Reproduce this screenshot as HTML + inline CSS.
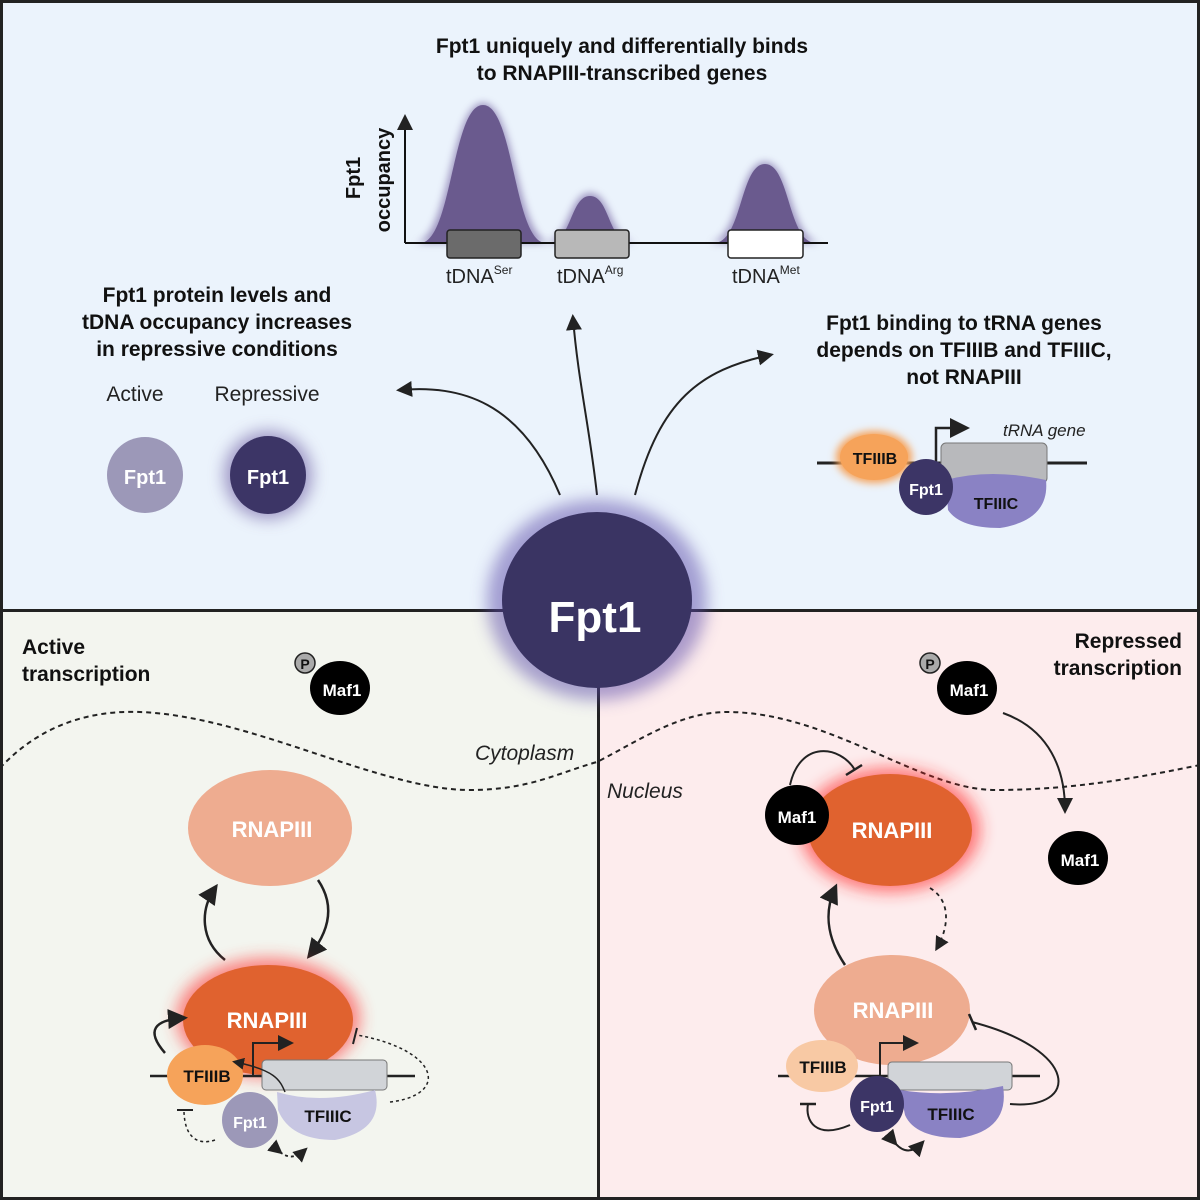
<!DOCTYPE html>
<html><head><meta charset="utf-8"><style>
body{margin:0}svg{display:block}
text{font-family:"Liberation Sans",sans-serif}
.b{font-weight:bold}
</style></head><body>
<svg width="1200" height="1200" viewBox="0 0 1200 1200">
<defs>
<filter id="g" x="-50%" y="-50%" width="200%" height="200%"><feGaussianBlur stdDeviation="8"/></filter>
<filter id="g2" x="-50%" y="-50%" width="200%" height="200%"><feGaussianBlur stdDeviation="4"/></filter>
<marker id="ah" markerWidth="8" markerHeight="8" refX="6" refY="4" orient="auto"><path d="M0,0 L8,4 L0,8 z" fill="#222"/></marker>
</defs>
<rect x="0" y="0" width="1200" height="1200" fill="#222"/>
<rect x="3" y="3" width="1194" height="606" fill="#ebf3fc"/>
<rect x="3" y="612" width="594" height="585" fill="#f3f5ef"/>
<rect x="600" y="612" width="597" height="585" fill="#fdeced"/>

<text x="622" y="53" font-size="21" class="b" text-anchor="middle" fill="#111">Fpt1 uniquely and differentially binds</text>
<text x="622" y="80" font-size="21" class="b" text-anchor="middle" fill="#111">to RNAPIII-transcribed genes</text>
<text transform="translate(360,178) rotate(-90)" font-size="20" class="b" text-anchor="middle" fill="#111">Fpt1</text>
<text transform="translate(390,180) rotate(-90)" font-size="20" class="b" text-anchor="middle" fill="#111">occupancy</text>
<g fill="#7a6aa6" filter="url(#g2)" opacity="0.7">
<path d="M414,243 C450,243 450,103 483,103 C516,103 516,243 552,243Z"/>
<path d="M542,243 C570,243 568,193 590,193 C612,193 610,243 638,243Z"/>
<path d="M708,243 C740,243 738,162 765,162 C792,162 790,243 822,243Z"/>
</g>
<g fill="#6a5a8e">
<path d="M420,243 C452,243 452,105 483,105 C514,105 514,243 546,243Z"/>
<path d="M548,243 C572,243 570,196 590,196 C610,196 608,243 632,243Z"/>
<path d="M714,243 C742,243 740,164 765,164 C790,164 788,243 816,243Z"/>
</g>
<line x1="405" y1="243" x2="405" y2="118" stroke="#111" stroke-width="2" marker-end="url(#ah)"/>
<line x1="405" y1="243" x2="828" y2="243" stroke="#111" stroke-width="2"/>
<rect x="447" y="230" width="74" height="28" rx="3" fill="#6b6b6b" stroke="#222" stroke-width="1.5"/>
<rect x="555" y="230" width="74" height="28" rx="3" fill="#b8b8b8" stroke="#222" stroke-width="1.5"/>
<rect x="728" y="230" width="75" height="28" rx="3" fill="#fff" stroke="#222" stroke-width="1.5"/>
<text x="446" y="283" font-size="20" fill="#222">tDNA<tspan font-size="12" dy="-9">Ser</tspan></text>
<text x="557" y="283" font-size="20" fill="#222">tDNA<tspan font-size="12" dy="-9">Arg</tspan></text>
<text x="732" y="283" font-size="20" fill="#222">tDNA<tspan font-size="12" dy="-9">Met</tspan></text>

<text x="217" y="302" font-size="21" class="b" text-anchor="middle" fill="#111">Fpt1 protein levels and</text>
<text x="217" y="329" font-size="21" class="b" text-anchor="middle" fill="#111">tDNA occupancy increases</text>
<text x="217" y="356" font-size="21" class="b" text-anchor="middle" fill="#111">in repressive conditions</text>
<text x="135" y="401" font-size="21" text-anchor="middle" fill="#222">Active</text>
<text x="267" y="401" font-size="21" text-anchor="middle" fill="#222">Repressive</text>
<ellipse cx="145" cy="475" rx="38" ry="38" fill="#9c98b8"/>
<ellipse cx="268" cy="475" rx="44" ry="44" fill="#6a5aa0" filter="url(#g)" opacity="0.6"/>
<ellipse cx="268" cy="475" rx="38" ry="39" fill="#3c3566"/>
<text x="145" y="484" font-size="20" class="b" fill="#fff" text-anchor="middle">Fpt1</text>
<text x="268" y="484" font-size="20" class="b" fill="#fff" text-anchor="middle">Fpt1</text>

<text x="964" y="330" font-size="21" class="b" text-anchor="middle" fill="#111">Fpt1 binding to tRNA genes</text>
<text x="964" y="357" font-size="21" class="b" text-anchor="middle" fill="#111">depends on TFIIIB and TFIIIC,</text>
<text x="964" y="384" font-size="21" class="b" text-anchor="middle" fill="#111">not RNAPIII</text>
<line x1="817" y1="463" x2="1087" y2="463" stroke="#222" stroke-width="3"/>
<rect x="941" y="443" width="106" height="40" rx="5" fill="#b8b9bc" stroke="#777"/>
<path d="M936,463 V428 H965" stroke="#222" stroke-width="2.5" fill="none" marker-end="url(#ah)"/>
<text x="1003" y="436" font-size="17" font-style="italic" fill="#222">tRNA gene</text>
<ellipse cx="874" cy="457" rx="38" ry="26" fill="#f6a35a" filter="url(#g2)"/>
<ellipse cx="874" cy="457" rx="34" ry="23" fill="#f6a35a"/>
<text x="875" y="464" font-size="16" class="b" text-anchor="middle" fill="#111">TFIIIB</text>
<path d="M946,480 Q990,468 1046,480 Q1050,520 1000,528 Q960,528 948,510Z" fill="#8a82c4"/>
<text x="996" y="509" font-size="16" class="b" text-anchor="middle" fill="#111">TFIIIC</text>
<ellipse cx="926" cy="487" rx="27" ry="28" fill="#3c3566"/>
<text x="926" y="495" font-size="16" class="b" text-anchor="middle" fill="#fff">Fpt1</text>

<path d="M560,495 C520,400 460,385 400,390" stroke="#222" stroke-width="2" fill="none" marker-end="url(#ah)"/>
<path d="M597,495 C590,430 578,380 573,318" stroke="#222" stroke-width="2" fill="none" marker-end="url(#ah)"/>
<path d="M635,495 C660,400 700,370 770,355" stroke="#222" stroke-width="2" fill="none" marker-end="url(#ah)"/>

<text x="22" y="654" font-size="21" class="b" fill="#111">Active</text>
<text x="22" y="681" font-size="21" class="b" fill="#111">transcription</text>
<path d="M0,768 C40,725 90,710 140,712 C250,716 380,790 470,790 C530,790 560,772 597,762 C640,740 680,712 727,712 C830,712 920,790 995,790 C1080,790 1150,775 1200,765" stroke="#222" stroke-width="2" stroke-dasharray="5,4" fill="none"/>
<text x="475" y="760" font-size="21" font-style="italic" fill="#222">Cytoplasm</text>
<text x="607" y="798" font-size="21" font-style="italic" fill="#222">Nucleus</text>
<circle cx="305" cy="663" r="10" fill="#aaa" stroke="#222" stroke-width="1.5"/>
<text x="305" y="669" font-size="14" class="b" text-anchor="middle" fill="#111">P</text>
<ellipse cx="340" cy="688" rx="30" ry="27" fill="#000"/>
<text x="342" y="696" font-size="17" class="b" text-anchor="middle" fill="#fff">Maf1</text>

<ellipse cx="270" cy="828" rx="82" ry="58" fill="#eeac90"/>
<text x="272" y="837" font-size="22" class="b" text-anchor="middle" fill="#fff">RNAPIII</text>
<path d="M225,960 C200,940 200,910 215,888" stroke="#222" stroke-width="2.5" fill="none" marker-end="url(#ah)"/>
<path d="M318,880 C335,905 330,930 310,955" stroke="#222" stroke-width="2.5" fill="none" marker-end="url(#ah)"/>
<ellipse cx="268" cy="1018" rx="92" ry="60" fill="#ff3030" filter="url(#g)" opacity="0.6"/>
<ellipse cx="268" cy="1020" rx="85" ry="55" fill="#e0622f"/>
<text x="267" y="1028" font-size="22" class="b" text-anchor="middle" fill="#fff">RNAPIII</text>
<line x1="150" y1="1076" x2="415" y2="1076" stroke="#222" stroke-width="2.5"/>
<rect x="262" y="1060" width="125" height="30" rx="4" fill="#d1d4d8" stroke="#777"/>
<path d="M253,1076 V1043 H290" stroke="#222" stroke-width="2" fill="none" marker-end="url(#ah)"/>
<ellipse cx="205" cy="1075" rx="38" ry="30" fill="#f6a35a"/>
<text x="207" y="1082" font-size="17" class="b" text-anchor="middle" fill="#111">TFIIIB</text>
<path d="M277,1092 Q320,1105 375,1090 Q385,1130 335,1140 Q290,1140 278,1110Z" fill="#c7c6e2"/>
<text x="328" y="1122" font-size="17" class="b" text-anchor="middle" fill="#111">TFIIIC</text>
<ellipse cx="250" cy="1120" rx="28" ry="28" fill="#9c98b8"/>
<text x="250" y="1128" font-size="16" class="b" text-anchor="middle" fill="#fff">Fpt1</text>
<path d="M165,1053 C145,1030 155,1020 183,1018" stroke="#222" stroke-width="2.5" fill="none" marker-end="url(#ah)"/>
<path d="M285,1092 C280,1080 275,1070 235,1062" stroke="#222" stroke-width="1.5" fill="none" marker-end="url(#ah)"/>
<path d="M215,1140 C200,1145 185,1140 184,1112" stroke="#222" stroke-width="1.5" stroke-dasharray="3,3" fill="none"/>
<line x1="177" y1="1110" x2="193" y2="1110" stroke="#222" stroke-width="2"/>
<path d="M390,1102 C450,1095 440,1050 357,1035" stroke="#222" stroke-width="1.5" stroke-dasharray="3,3" fill="none"/>
<line x1="357" y1="1028" x2="353" y2="1044" stroke="#222" stroke-width="2"/>
<path d="M280,1152 Q292,1162 305,1150" stroke="#222" stroke-width="1.8" stroke-dasharray="3,3" fill="none" marker-start="url(#ah)" marker-end="url(#ah)"/>

<text x="1182" y="648" font-size="21" class="b" text-anchor="end" fill="#111">Repressed</text>
<text x="1182" y="675" font-size="21" class="b" text-anchor="end" fill="#111">transcription</text>
<circle cx="930" cy="663" r="10" fill="#aaa" stroke="#222" stroke-width="1.5"/>
<text x="930" y="669" font-size="14" class="b" text-anchor="middle" fill="#111">P</text>
<ellipse cx="967" cy="688" rx="30" ry="27" fill="#000"/>
<text x="969" y="696" font-size="17" class="b" text-anchor="middle" fill="#fff">Maf1</text>
<path d="M1003,713 C1050,730 1065,770 1065,810" stroke="#222" stroke-width="2" fill="none" marker-end="url(#ah)"/>
<ellipse cx="1078" cy="858" rx="30" ry="27" fill="#000"/>
<text x="1080" y="866" font-size="17" class="b" text-anchor="middle" fill="#fff">Maf1</text>
<ellipse cx="890" cy="830" rx="90" ry="62" fill="#ff2020" filter="url(#g)" opacity="0.6"/>
<ellipse cx="890" cy="830" rx="82" ry="56" fill="#e0622f"/>
<text x="892" y="838" font-size="22" class="b" text-anchor="middle" fill="#fff">RNAPIII</text>
<ellipse cx="797" cy="815" rx="32" ry="30" fill="#000"/>
<text x="797" y="823" font-size="17" class="b" text-anchor="middle" fill="#fff">Maf1</text>
<path d="M790,785 C800,740 840,745 855,770" stroke="#222" stroke-width="2" fill="none"/>
<line x1="846" y1="775" x2="862" y2="765" stroke="#222" stroke-width="2.5"/>
<path d="M930,888 C950,900 950,925 937,948" stroke="#222" stroke-width="1.8" stroke-dasharray="4,4" fill="none" marker-end="url(#ah)"/>
<path d="M845,965 C825,935 825,910 835,888" stroke="#222" stroke-width="2.5" fill="none" marker-end="url(#ah)"/>
<ellipse cx="892" cy="1010" rx="78" ry="55" fill="#eeac90"/>
<text x="893" y="1018" font-size="22" class="b" text-anchor="middle" fill="#fff">RNAPIII</text>
<line x1="778" y1="1076" x2="1040" y2="1076" stroke="#222" stroke-width="2.5"/>
<rect x="888" y="1062" width="124" height="28" rx="4" fill="#d1d4d8" stroke="#777"/>
<path d="M880,1076 V1043 H915" stroke="#222" stroke-width="2" fill="none" marker-end="url(#ah)"/>
<ellipse cx="822" cy="1066" rx="36" ry="26" fill="#f8c9a4"/>
<text x="823" y="1073" font-size="17" class="b" text-anchor="middle" fill="#111">TFIIIB</text>
<path d="M900,1090 Q950,1098 1003,1086 Q1010,1130 960,1138 Q915,1138 905,1115Z" fill="#8a82c4"/>
<text x="951" y="1120" font-size="17" class="b" text-anchor="middle" fill="#111">TFIIIC</text>
<ellipse cx="877" cy="1104" rx="27" ry="28" fill="#3c3566"/>
<text x="877" y="1112" font-size="16" class="b" text-anchor="middle" fill="#fff">Fpt1</text>
<path d="M1010,1104 C1080,1110 1080,1050 972,1022" stroke="#222" stroke-width="2" fill="none"/>
<line x1="969" y1="1014" x2="976" y2="1030" stroke="#222" stroke-width="2.5"/>
<path d="M850,1125 C815,1140 805,1120 808,1104" stroke="#222" stroke-width="2" fill="none"/>
<line x1="800" y1="1104" x2="816" y2="1104" stroke="#222" stroke-width="2.5"/>
<path d="M895,1143 Q908,1158 922,1143" stroke="#222" stroke-width="2" fill="none" marker-start="url(#ah)" marker-end="url(#ah)"/>

<rect x="0" y="609" width="1200" height="3" fill="#222"/>
<rect x="597" y="609" width="3" height="591" fill="#222"/>

<ellipse cx="597" cy="600" rx="110" ry="100" fill="#5a4aa8" filter="url(#g)" opacity="0.5"/>
<ellipse cx="597" cy="600" rx="95" ry="88" fill="#3a3463"/>
<text x="595" y="632" font-size="44" class="b" text-anchor="middle" fill="#fff">Fpt1</text>
</svg>
</body></html>
